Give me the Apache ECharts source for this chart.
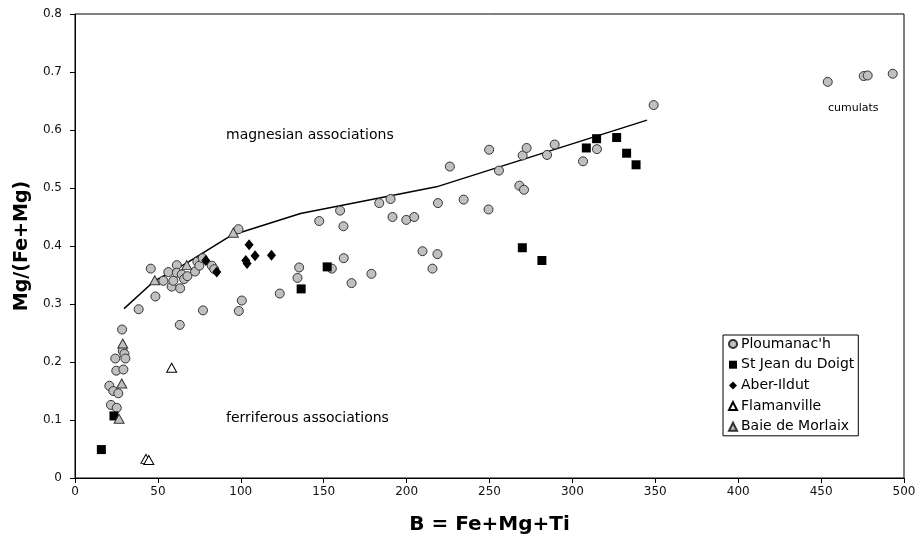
<!DOCTYPE html>
<html>
<head>
<meta charset="utf-8">
<script src="https://cdn.jsdelivr.net/npm/echarts@6/dist/echarts.min.js"></script>
<style>html,body{margin:0;padding:0;background:#fff}#c{width:923px;height:550px}</style>
</head>
<body>
<div id="c"></div>
<script>
var seriesNames = ["Ploumanac'h", "St Jean du Doigt", "Aber-Ildut", "Flamanville", "Baie de Morlaix"];
var xTicks = [0, 50, 100, 150, 200, 250, 300, 350, 400, 450, 500];
var yTicks = [0, 0.1, 0.2, 0.3, 0.4, 0.5, 0.6, 0.7, 0.8];

var ploumanach = [
  [28.4,0.256],[24.3,0.206],[28.8,0.219],[29.8,0.214],[30.4,0.206],[24.9,0.185],[29.2,0.187],
  [20.7,0.159],[23.1,0.150],[26.1,0.146],[21.7,0.126],[25.2,0.121],
  [38.4,0.291],[48.5,0.313],[63.2,0.264],[77.2,0.289],[45.7,0.361],[98.8,0.288],[100.6,0.306],
  [53.3,0.340],[56.3,0.355],[58.3,0.330],[59.3,0.340],[61.4,0.367],[61.4,0.354],[63.4,0.327],
  [64.4,0.351],[65.8,0.343],[67.8,0.348],[72.4,0.356],[73.8,0.373],[75.0,0.366],[77.0,0.379],
  [82.5,0.366],[84.0,0.360],[98.6,0.429],
  [123.5,0.318],[135.2,0.363],[134.2,0.345],[154.9,0.361],[162.1,0.379],[166.8,0.336],[178.8,0.352],
  [147.3,0.443],[159.9,0.461],[161.9,0.434],[183.5,0.474],[190.3,0.481],[191.5,0.450],[199.8,0.445],[204.6,0.450],
  [209.6,0.391],[218.6,0.386],[215.6,0.361],[218.9,0.474],[226.1,0.537],[234.4,0.480],[249.4,0.463],
  [249.8,0.566],[255.7,0.530],[268.0,0.504],[270.8,0.497],[270.0,0.556],[272.4,0.569],[284.7,0.557],
  [289.3,0.575],[306.4,0.546],[314.8,0.567],[349.0,0.643],
  [454.0,0.683],[475.7,0.693],[478.1,0.694],[493.2,0.697]
];
var stJean = [
  [15.9,0.049],[23.5,0.107],[136.4,0.326],[152.1,0.364],[269.8,0.397],[281.6,0.375],
  [308.4,0.569],[314.6,0.585],[326.7,0.587],[332.7,0.560],[338.4,0.540]
];
var aberIldut = [
  [78.9,0.375],[85.5,0.355],[105.0,0.402],[108.6,0.383],[103.0,0.375],[103.8,0.370],[118.5,0.384]
];
var flamanville = [
  [42.8,0.033],[44.5,0.031],[58.3,0.190]
];
var baieMorlaix = [
  [26.6,0.102],[28.2,0.163],[28.8,0.232],[48.1,0.341],[67.4,0.367],[95.5,0.423]
];
var boundary = [
  [29.6,0.292],[48.0,0.340],[67.0,0.370],[94.0,0.418],[136.0,0.456],[218.0,0.502],[345.0,0.617]
];
var annotations = ["magnesian associations", "ferriferous associations", "cumulats"];

var chart = echarts.init(document.getElementById('c'), null, {renderer: 'canvas'});
var FONT = 'DejaVu Sans';
var grey = '#c0c0c0';
var option = {
  animation: false,
  backgroundColor: '#fff',
  grid: {left: 75, top: 14, width: 829, height: 464, show: true, borderColor: '#000', borderWidth: 1, backgroundColor: 'transparent'},
  xAxis: {
    type: 'value', min: 0, max: 500, interval: 50,
    name: 'B = Fe+Mg+Ti', nameLocation: 'middle', nameGap: 37,
    nameTextStyle: {fontFamily: FONT, fontWeight: 'bold', fontSize: 20, color: '#000'},
    axisLine: {show: true, onZero: false, lineStyle: {color: '#000', width: 1}},
    axisTick: {show: true, inside: false, length: 5, lineStyle: {color: '#000'}},
    axisLabel: {fontFamily: FONT, fontSize: 12, color: '#111', margin: 8,
      formatter: function (v) { return xTicks.indexOf(v) >= 0 ? String(v) : ''; }},
    splitLine: {show: false}
  },
  yAxis: {
    type: 'value', min: 0, max: 0.8, interval: 0.1,
    name: 'Mg/(Fe+Mg)', nameLocation: 'middle', nameGap: 38, nameRotate: 90,
    nameTextStyle: {fontFamily: FONT, fontWeight: 'bold', fontSize: 19, color: '#000'},
    axisLine: {show: true, onZero: false, lineStyle: {color: '#000', width: 1}},
    axisTick: {show: true, inside: false, length: 5, lineStyle: {color: '#000'}},
    axisLabel: {fontFamily: FONT, fontSize: 12, color: '#111', margin: 13,
      formatter: function (v) {
        var r = Math.round(v * 10) / 10;
        return r === 0 ? '0' : r.toFixed(1);
      }},
    splitLine: {show: false}
  },
  legend: {
    data: seriesNames,
    orient: 'vertical', left: 723, top: 335,
    backgroundColor: '#fff', borderColor: '#000', borderWidth: 1,
    padding: [1, 4, 1, 5], itemGap: 4.7, itemWidth: 8, itemHeight: 8,
    textStyle: {fontFamily: FONT, fontSize: 14, color: '#000', lineHeight: 16, padding: [0, 0, 0, -1]},
    selectedMode: false
  },
  series: [
    {
      name: 'boundary', type: 'line', data: boundary, showSymbol: false, symbol: 'none',
      lineStyle: {color: '#000', width: 1.5}, silent: true, z: 1
    },
    {
      name: seriesNames[0], type: 'scatter', data: ploumanach, symbol: 'circle', symbolSize: 9,
      itemStyle: {color: grey, borderColor: '#333', borderWidth: 1, opacity: 1}, z: 3
    },
    {
      name: seriesNames[1], type: 'scatter', data: stJean, symbol: 'rect', symbolSize: 9,
      itemStyle: {color: '#000', borderColor: '#000', borderWidth: 0, opacity: 1}, z: 4
    },
    {
      name: seriesNames[2], type: 'scatter', data: aberIldut, symbol: 'diamond', symbolSize: [9, 11],
      itemStyle: {color: '#000', borderColor: '#000', borderWidth: 0, opacity: 1}, z: 4
    },
    {
      name: seriesNames[3], type: 'scatter', data: flamanville, symbol: 'triangle', symbolSize: [10, 9],
      itemStyle: {color: '#fff', borderColor: '#000', borderWidth: 1, opacity: 1}, z: 4
    },
    {
      name: seriesNames[4], type: 'scatter', data: baieMorlaix, symbol: 'triangle', symbolSize: [10, 9],
      itemStyle: {color: grey, borderColor: '#333', borderWidth: 1, opacity: 1}, z: 4
    }
  ],
  graphic: [
    {type: 'text', left: 226, top: 128, style: {text: annotations[0], fontFamily: FONT, fontSize: 14, fill: '#000'}},
    {type: 'text', left: 226, top: 411, style: {text: annotations[1], fontFamily: FONT, fontSize: 14, fill: '#000'}},
    {type: 'text', left: 828, top: 103, style: {text: annotations[2], fontFamily: FONT, fontSize: 11, fill: '#000'}}
  ]
};
chart.setOption(option);
</script>
</body>
</html>
